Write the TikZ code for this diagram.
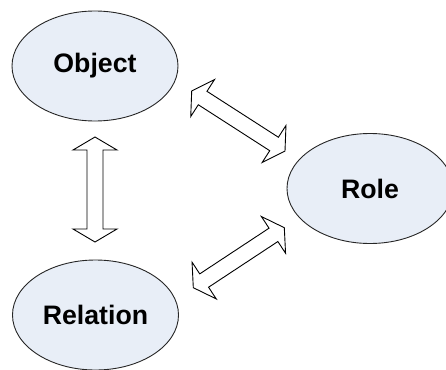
\documentclass[tikz,border=0pt]{standalone}
\usepackage{fontspec}
\setmainfont{Liberation Sans}
\usetikzlibrary{calc,shapes.geometric}
\definecolor{ovalfill}{RGB}{232,238,247}
\tikzset{
  concept/.style={ellipse, draw=black!85, line width=0.9pt, fill=ovalfill,
    minimum width=166pt, minimum height=110pt, inner sep=0pt,
    font=\fontsize{26.7}{30}\selectfont\bfseries},
  blockarrow/.style={draw=black, fill=white, line width=0.9pt, line join=miter}
}
% Two-headed block arrow between two tip coordinates
\newcommand\twowayarrow[2]{%
  \draw[blockarrow] (#1)
    -- ($(#1)!13pt!(#2)!22pt!90:(#2)$)
    -- ($(#1)!13pt!(#2)!8pt!90:(#2)$)
    -- ($(#2)!13pt!(#1)!8pt!-90:(#1)$)
    -- ($(#2)!13pt!(#1)!22pt!-90:(#1)$)
    -- (#2)
    -- ($(#2)!13pt!(#1)!22pt!90:(#1)$)
    -- ($(#2)!13pt!(#1)!8pt!90:(#1)$)
    -- ($(#1)!13pt!(#2)!8pt!-90:(#2)$)
    -- ($(#1)!13pt!(#2)!22pt!-90:(#2)$)
    -- cycle;}
\begin{document}
\begin{tikzpicture}[x=1pt,y=-1pt]
  \useasboundingbox (0,0) rectangle (446,369);
  \clip (0,0) rectangle (446,369);

  \node[concept] (object)   at (95,66)    {Object};
  \node[concept] (relation) at (95.5,315) {Relation};
  \node[concept] (role)     at (370,188.5) {Role};

  \coordinate (ov1) at (95,137);
  \coordinate (ov2) at (95,242);
  \coordinate (ud1) at (191.7,91);
  \coordinate (ud2) at (285,151);
  \coordinate (ld1) at (193.3,287.7);
  \coordinate (ld2) at (284.3,227.7);

  \twowayarrow{ov1}{ov2}
  \twowayarrow{ud1}{ud2}
  \twowayarrow{ld1}{ld2}
\end{tikzpicture}
\end{document}
